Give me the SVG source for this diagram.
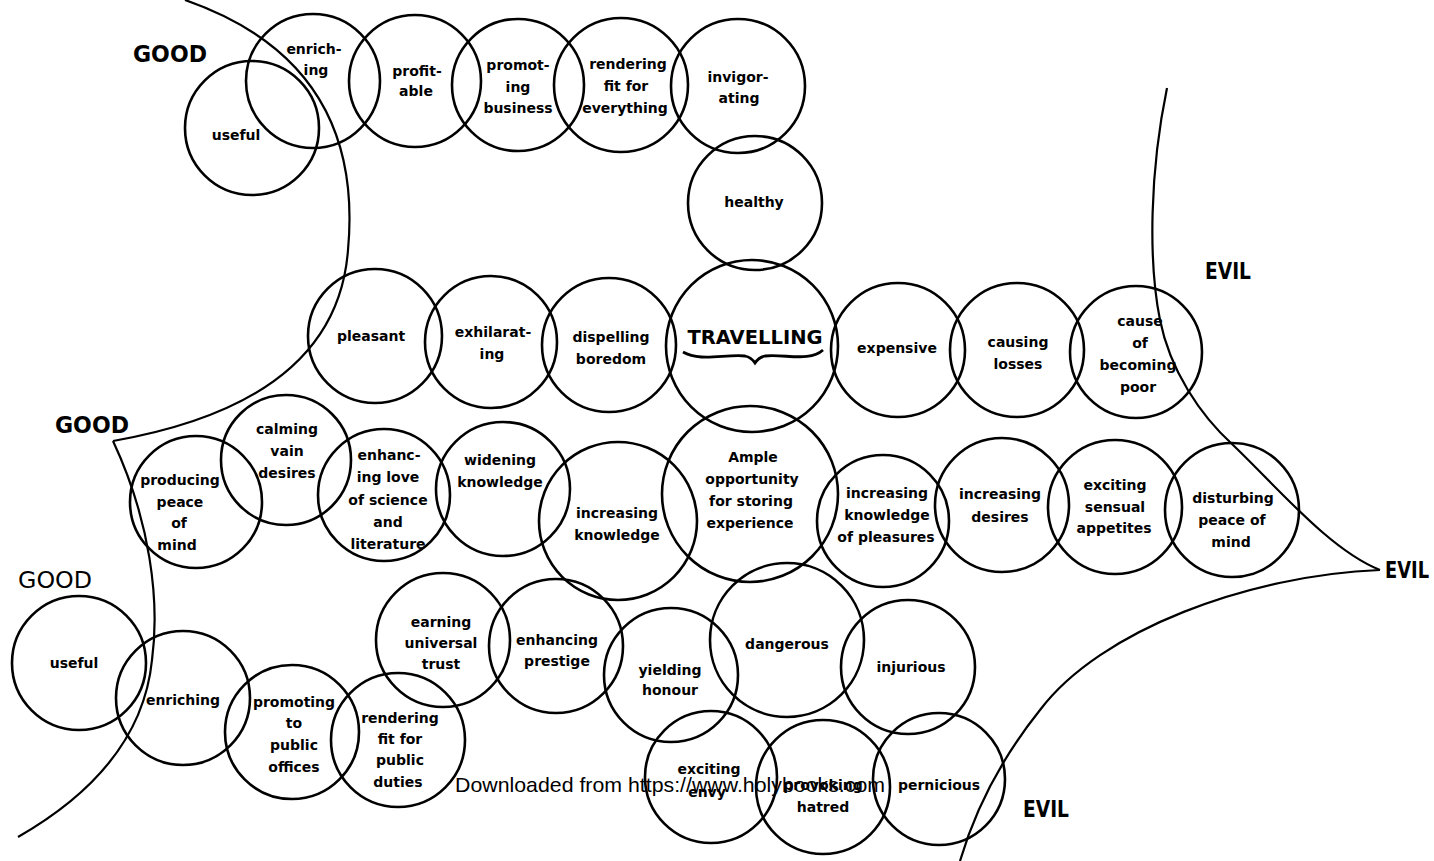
<svg xmlns="http://www.w3.org/2000/svg" width="1434" height="861" viewBox="0 0 1434 861">
<style>
.c{fill:none;stroke:#000;stroke-width:2.6}
.b{fill:none;stroke:#000;stroke-width:2.2}
.t{font-family:"DejaVu Sans",sans-serif;font-size:14px;font-weight:bold;text-anchor:middle;fill:#000}
.h{font-family:"DejaVu Sans",sans-serif;font-size:23px;font-weight:bold;fill:#000}
.w{font-family:"Liberation Sans",Arial,sans-serif;font-size:21px;fill:#000}
</style>
<rect width="1434" height="861" fill="#fff"/>
<g id="boundaries">
<path class="b" d="M185,0 C300,40 360,120 348,250 C342,330 290,410 113,441"/>
<path class="b" d="M113,441 C150,520 160,600 152,660 C145,730 100,790 18,837"/>
<path class="b" d="M1167,88 C1150,170 1148,260 1160,320 C1170,370 1200,415 1233,445 C1280,490 1330,550 1380,570"/>
<path class="b" d="M1380,570 C1250,575 1100,630 1040,710 C1000,760 975,810 960,861"/>
</g>
<g id="labels">
<text class="h" x="133" y="62" textLength="74" lengthAdjust="spacingAndGlyphs">GOOD</text>
<text class="h" x="55" y="433" textLength="74" lengthAdjust="spacingAndGlyphs">GOOD</text>
<text class="h" x="18" y="588" textLength="74" lengthAdjust="spacingAndGlyphs" style="font-weight:normal">GOOD</text>
<text class="h" x="1205" y="279" textLength="46" lengthAdjust="spacingAndGlyphs">EVIL</text>
<text class="h" x="1385" y="578" textLength="44" lengthAdjust="spacingAndGlyphs">EVIL</text>
<text class="h" x="1023" y="817" textLength="46" lengthAdjust="spacingAndGlyphs">EVIL</text>
</g>
<g id="n-useful-top"><circle class="c" cx="252" cy="128" r="67"/><text class="t" x="236" y="140">useful</text></g>
<g id="n-enriching-top"><circle class="c" cx="313" cy="81" r="67"/><text class="t"><tspan x="314" y="54">enrich-</tspan><tspan x="316" y="75">ing</tspan></text></g>
<g id="n-profitable"><circle class="c" cx="415" cy="81" r="66"/><text class="t"><tspan x="417" y="76">profit-</tspan><tspan x="416" y="96">able</tspan></text></g>
<g id="n-promoting-business"><circle class="c" cx="518" cy="85" r="66"/><text class="t"><tspan x="518" y="70">promot-</tspan><tspan x="518" y="92">ing</tspan><tspan x="518" y="113">business</tspan></text></g>
<g id="n-rendering-everything"><circle class="c" cx="621" cy="85" r="67"/><text class="t"><tspan x="628" y="69">rendering</tspan><tspan x="626" y="91">fit for</tspan><tspan x="625" y="113">everything</tspan></text></g>
<g id="n-invigorating"><circle class="c" cx="738" cy="86" r="67"/><text class="t"><tspan x="738" y="82">invigor-</tspan><tspan x="739" y="103">ating</tspan></text></g>
<g id="n-healthy"><circle class="c" cx="755" cy="203" r="67"/><text class="t" x="754" y="207">healthy</text></g>
<g id="n-pleasant"><circle class="c" cx="375" cy="336" r="67"/><text class="t" x="371" y="341">pleasant</text></g>
<g id="n-exhilarating"><circle class="c" cx="491" cy="342" r="66"/><text class="t"><tspan x="493" y="337">exhilarat-</tspan><tspan x="492" y="359">ing</tspan></text></g>
<g id="n-dispelling"><circle class="c" cx="609" cy="345" r="67"/><text class="t"><tspan x="611" y="342">dispelling</tspan><tspan x="611" y="364">boredom</tspan></text></g>
<g id="n-travelling"><circle class="c" cx="752" cy="346" r="86"/><text class="t" x="755" y="344" style="font-size:20px" textLength="135" lengthAdjust="spacingAndGlyphs">TRAVELLING</text>
<path d="M683,352 C700,362 725,354 745,356 C750,357 753,360 755,363 C757,360 760,357 765,356 C785,354 810,362 823,350" fill="none" stroke="#000" stroke-width="2.8"/></g>
<g id="n-expensive"><circle class="c" cx="898" cy="350" r="67"/><text class="t" x="897" y="353">expensive</text></g>
<g id="n-causing-losses"><circle class="c" cx="1017" cy="350" r="67"/><text class="t"><tspan x="1018" y="347">causing</tspan><tspan x="1018" y="369">losses</tspan></text></g>
<g id="n-becoming-poor"><circle class="c" cx="1136" cy="352" r="66"/><text class="t"><tspan x="1140" y="326">cause</tspan><tspan x="1140" y="348">of</tspan><tspan x="1138" y="370">becoming</tspan><tspan x="1138" y="392">poor</tspan></text></g>
<g id="n-producing-peace"><circle class="c" cx="196" cy="502" r="66"/><text class="t"><tspan x="180" y="485">producing</tspan><tspan x="180" y="507">peace</tspan><tspan x="179" y="528">of</tspan><tspan x="177" y="550">mind</tspan></text></g>
<g id="n-calming"><circle class="c" cx="286" cy="460" r="65"/><text class="t"><tspan x="287" y="434">calming</tspan><tspan x="287" y="456">vain</tspan><tspan x="287" y="478">desires</tspan></text></g>
<g id="n-love-science"><circle class="c" cx="384" cy="495" r="66"/><text class="t"><tspan x="389" y="460">enhanc-</tspan><tspan x="388" y="482">ing love</tspan><tspan x="388" y="505">of science</tspan><tspan x="388" y="527">and</tspan><tspan x="388" y="549">literature</tspan></text></g>
<g id="n-widening"><circle class="c" cx="503" cy="489" r="67"/><text class="t"><tspan x="500" y="465">widening</tspan><tspan x="500" y="487">knowledge</tspan></text></g>
<g id="n-increasing-knowledge"><circle class="c" cx="618" cy="521" r="79"/><text class="t"><tspan x="617" y="518">increasing</tspan><tspan x="617" y="540">knowledge</tspan></text></g>
<g id="n-ample"><circle class="c" cx="750" cy="494" r="88"/><text class="t"><tspan x="753" y="462">Ample</tspan><tspan x="752" y="484">opportunity</tspan><tspan x="751" y="506">for storing</tspan><tspan x="750" y="528">experience</tspan></text></g>
<g id="n-knowledge-pleasures"><circle class="c" cx="883" cy="521" r="66"/><text class="t"><tspan x="887" y="498">increasing</tspan><tspan x="887" y="520">knowledge</tspan><tspan x="886" y="542">of pleasures</tspan></text></g>
<g id="n-increasing-desires"><circle class="c" cx="1002" cy="505" r="67"/><text class="t"><tspan x="1000" y="499">increasing</tspan><tspan x="1000" y="522">desires</tspan></text></g>
<g id="n-sensual"><circle class="c" cx="1115" cy="507" r="67"/><text class="t"><tspan x="1115" y="490">exciting</tspan><tspan x="1115" y="512">sensual</tspan><tspan x="1114" y="533">appetites</tspan></text></g>
<g id="n-disturbing"><circle class="c" cx="1232" cy="510" r="67"/><text class="t"><tspan x="1233" y="503">disturbing</tspan><tspan x="1232" y="525">peace of</tspan><tspan x="1231" y="547">mind</tspan></text></g>
<g id="n-useful-bottom"><circle class="c" cx="79" cy="663" r="67"/><text class="t" x="74" y="668">useful</text></g>
<g id="n-enriching-bottom"><circle class="c" cx="183" cy="698" r="67"/><text class="t" x="183" y="705">enriching</text></g>
<g id="n-public-offices"><circle class="c" cx="292" cy="732" r="67"/><text class="t"><tspan x="294" y="707">promoting</tspan><tspan x="294" y="728">to</tspan><tspan x="294" y="750">public</tspan><tspan x="294" y="772">offices</tspan></text></g>
<g id="n-public-duties"><circle class="c" cx="398" cy="740" r="67"/><text class="t"><tspan x="400" y="723">rendering</tspan><tspan x="400" y="744">fit for</tspan><tspan x="400" y="765">public</tspan><tspan x="398" y="787">duties</tspan></text></g>
<g id="n-trust"><circle class="c" cx="443" cy="640" r="67"/><text class="t"><tspan x="441" y="627">earning</tspan><tspan x="441" y="648">universal</tspan><tspan x="441" y="669">trust</tspan></text></g>
<g id="n-prestige"><circle class="c" cx="556" cy="646" r="67"/><text class="t"><tspan x="557" y="645">enhancing</tspan><tspan x="557" y="666">prestige</tspan></text></g>
<g id="n-honour"><circle class="c" cx="671" cy="675" r="67"/><text class="t"><tspan x="670" y="675">yielding</tspan><tspan x="670" y="695">honour</tspan></text></g>
<g id="n-dangerous"><circle class="c" cx="787" cy="640" r="77"/><text class="t" x="787" y="649">dangerous</text></g>
<g id="n-injurious"><circle class="c" cx="908" cy="667" r="67"/><text class="t" x="911" y="672">injurious</text></g>
<g id="n-envy"><circle class="c" cx="711" cy="777" r="66"/><text class="t"><tspan x="709" y="774">exciting</tspan><tspan x="707" y="797">envy</tspan></text></g>
<g id="n-hatred"><circle class="c" cx="823" cy="787" r="67"/><text class="t"><tspan x="823" y="790">provoking</tspan><tspan x="823" y="812">hatred</tspan></text></g>
<g id="n-pernicious"><circle class="c" cx="939" cy="779" r="66"/><text class="t" x="939" y="790">pernicious</text></g>
<text class="w" x="455" y="792" textLength="430" lengthAdjust="spacingAndGlyphs">Downloaded from https://www.holybooks.com</text>
</svg>
